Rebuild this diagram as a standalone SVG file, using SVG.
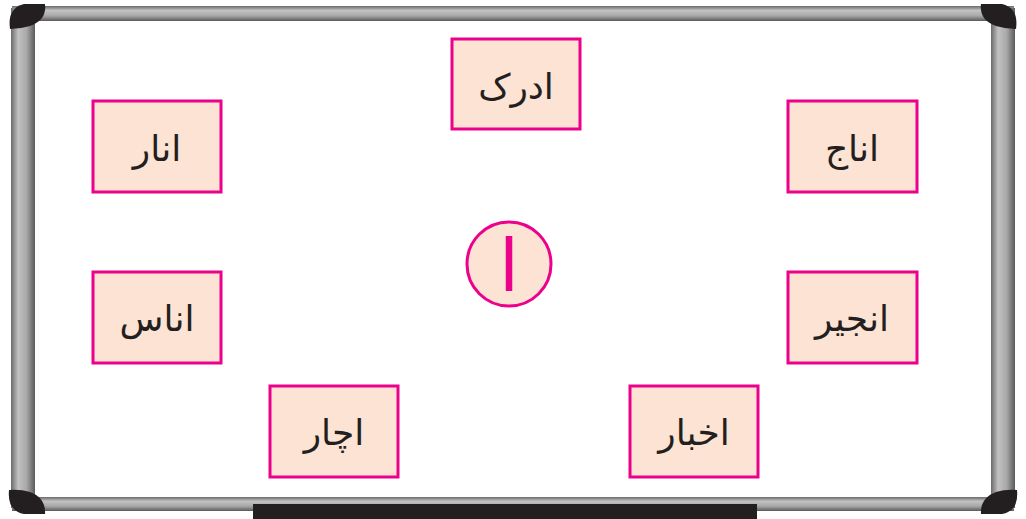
<svg xmlns="http://www.w3.org/2000/svg" width="1026" height="519" viewBox="0 0 1026 519">
<defs>
<linearGradient id="hbar" x1="0" y1="0" x2="0" y2="1">
<stop offset="0" stop-color="#6a6a6a"/><stop offset="0.3" stop-color="#c2c2c2"/><stop offset="0.65" stop-color="#a8a8a8"/><stop offset="1" stop-color="#5a5a5a"/>
</linearGradient>
<linearGradient id="vbar" x1="0" y1="0" x2="1" y2="0">
<stop offset="0" stop-color="#6a6a6a"/><stop offset="0.3" stop-color="#c2c2c2"/><stop offset="0.65" stop-color="#a8a8a8"/><stop offset="1" stop-color="#5a5a5a"/>
</linearGradient>
<style>
.box{fill:#fde3d3;stroke:#ec008c;stroke-width:3}
.t{font-family:"DejaVu Sans",sans-serif;font-size:36px;fill:#231f20;text-anchor:middle;dominant-baseline:central}
.corner{fill:#231f20}
</style>
</defs>
<rect width="1026" height="519" fill="#fff"/>
<g id="frame">
<rect x="36" y="20" width="954" height="478" fill="#fff"/>
<rect x="12" y="6" width="1002" height="15" fill="url(#hbar)"/>
<rect x="12" y="497" width="1002" height="14" fill="url(#hbar)"/>
<rect x="11" y="8" width="24" height="500" fill="url(#vbar)"/>
<rect x="991" y="8" width="24" height="500" fill="url(#vbar)"/>
<path class="corner" d="M10 29 Q7 8 24 4 L45 4 Q47 20 30 26 Q20 29 10 29 Z"/>
<path class="corner" d="M1016 29 Q1019 8 1002 4 L981 4 Q979 20 996 26 Q1006 29 1016 29 Z"/>
<path class="corner" d="M9 490 Q7 511 24 514 L45 514 Q46 498 30 492 Q20 489 9 490 Z"/>
<path class="corner" d="M1017 490 Q1019 511 1002 514 L981 514 Q980 498 996 492 Q1006 489 1017 490 Z"/>
<rect x="253" y="504" width="504" height="15" fill="#231f20"/>
</g>
<g id="n-adrak"><rect class="box" x="452" y="39" width="128" height="90"/><text class="t" x="516" y="86">ادرک</text></g>
<g id="n-anar"><rect class="box" x="93" y="101" width="128" height="91"/><text class="t" x="157" y="148">انار</text></g>
<g id="n-anaj"><rect class="box" x="788" y="101" width="129" height="91"/><text class="t" x="852" y="148">اناج</text></g>
<g id="n-ananas"><rect class="box" x="93" y="272" width="128" height="91"/><text class="t" x="157" y="318">اناس</text></g>
<g id="n-anjeer"><rect class="box" x="788" y="272" width="129" height="91"/><text class="t" x="852" y="318">انجیر</text></g>
<g id="n-achar"><rect class="box" x="270" y="386" width="128" height="91"/><text class="t" x="334" y="432">اچار</text></g>
<g id="n-akhbar"><rect class="box" x="630" y="386" width="128" height="91"/><text class="t" x="694" y="432">اخبار</text></g>
<g id="n-alif"><circle cx="509" cy="264" r="42" fill="#fde3d3" stroke="#ec008c" stroke-width="3"/><text x="509" y="266" font-family="DejaVu Sans,sans-serif" font-size="72" fill="#ec008c" text-anchor="middle" dominant-baseline="central">ا</text></g>
<g id="connectors"/>
</svg>
